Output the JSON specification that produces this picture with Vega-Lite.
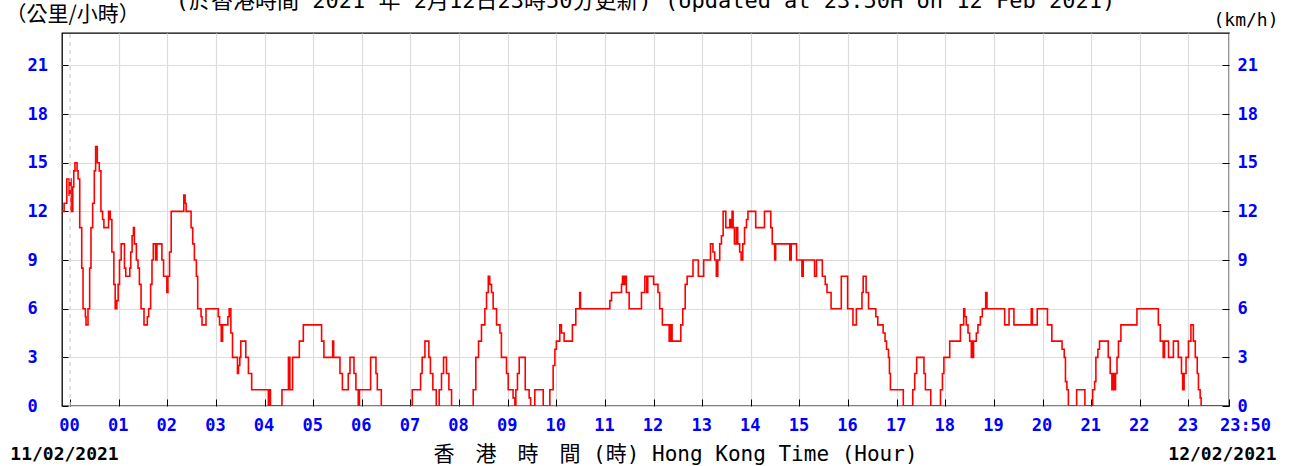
{
  "$schema": "https://vega.github.io/schema/vega-lite/v6.json",
  "width": 1167,
  "height": 373,
  "autosize": {"type": "none"},
  "padding": {"left": 62, "top": 33, "right": 67, "bottom": 60},
  "background": "white",
  "title": {
    "text": "(於香港時間 2021 年 2月12日23時50分更新)  (Updated at 23:50H on 12 Feb 2021)",
    "font": "DejaVu Sans Mono, Noto Sans CJK TC",
    "fontSize": 22,
    "fontWeight": "normal",
    "color": "#000000",
    "anchor": "middle",
    "frame": "group",
    "baseline": "middle",
    "offset": 0,
    "dy": 20
  },
  "config": {"view": {"stroke": "#000000", "strokeWidth": 1.3}},
  "resolve": {"axis": {"x": "independent", "y": "independent"}},
  "layer": [
    {
      "data": {"values": [
        {"t": -0.166667, "v": 12}, {"t": -0.123, "v": 12.5}, {"t": -0.068, "v": 14}, {"t": -0.02, "v": 13}, {"t": 0.0, "v": 14}, {"t": 0.02, "v": 12}, {"t": 0.055, "v": 13.5}, {"t": 0.075, "v": 14.5}, {"t": 0.1, "v": 15}, {"t": 0.143, "v": 14.5}, {"t": 0.164, "v": 14}, {"t": 0.198, "v": 11}, {"t": 0.239, "v": 8.5}, {"t": 0.266, "v": 6}, {"t": 0.314, "v": 5.5}, {"t": 0.327, "v": 5}, {"t": 0.368, "v": 6}, {"t": 0.402, "v": 8.5}, {"t": 0.429, "v": 11}, {"t": 0.464, "v": 12.5}, {"t": 0.498, "v": 14.5}, {"t": 0.525, "v": 16}, {"t": 0.559, "v": 15}, {"t": 0.6, "v": 14.5}, {"t": 0.634, "v": 12}, {"t": 0.668, "v": 11.5}, {"t": 0.695, "v": 11}, {"t": 0.791, "v": 12}, {"t": 0.825, "v": 11.5}, {"t": 0.859, "v": 9.5}, {"t": 0.9, "v": 7.5}, {"t": 0.927, "v": 6}, {"t": 0.961, "v": 6.5}, {"t": 0.988, "v": 7.5}, {"t": 1.016, "v": 9}, {"t": 1.05, "v": 10}, {"t": 1.118, "v": 8.5}, {"t": 1.145, "v": 8}, {"t": 1.227, "v": 8.5}, {"t": 1.247, "v": 9.5}, {"t": 1.275, "v": 10.5}, {"t": 1.302, "v": 11}, {"t": 1.322, "v": 10}, {"t": 1.363, "v": 9}, {"t": 1.397, "v": 8.5}, {"t": 1.425, "v": 7.5}, {"t": 1.459, "v": 6}, {"t": 1.52, "v": 5}, {"t": 1.588, "v": 5.5}, {"t": 1.616, "v": 6}, {"t": 1.656, "v": 7.5}, {"t": 1.684, "v": 9}, {"t": 1.711, "v": 10}, {"t": 1.759, "v": 9}, {"t": 1.786, "v": 10}, {"t": 1.888, "v": 9}, {"t": 1.922, "v": 8}, {"t": 1.99, "v": 7}, {"t": 2.011, "v": 8}, {"t": 2.045, "v": 9.5}, {"t": 2.079, "v": 12}, {"t": 2.338, "v": 13}, {"t": 2.365, "v": 12.5}, {"t": 2.386, "v": 12}, {"t": 2.488, "v": 11}, {"t": 2.522, "v": 10}, {"t": 2.556, "v": 9}, {"t": 2.597, "v": 8}, {"t": 2.624, "v": 6}, {"t": 2.693, "v": 5.5}, {"t": 2.713, "v": 5}, {"t": 2.795, "v": 6}, {"t": 3.047, "v": 5.5}, {"t": 3.074, "v": 5}, {"t": 3.108, "v": 4}, {"t": 3.136, "v": 5}, {"t": 3.245, "v": 5.5}, {"t": 3.272, "v": 6}, {"t": 3.306, "v": 4.5}, {"t": 3.34, "v": 3}, {"t": 3.442, "v": 2}, {"t": 3.463, "v": 2.5}, {"t": 3.49, "v": 3}, {"t": 3.51, "v": 4}, {"t": 3.613, "v": 3}, {"t": 3.667, "v": 2}, {"t": 3.734, "v": 1}, {"t": 4.077, "v": 0}, {"t": 4.1, "v": 1}, {"t": 4.12, "v": 0}, {"t": 4.357, "v": 1}, {"t": 4.49, "v": 3}, {"t": 4.52, "v": 1}, {"t": 4.575, "v": 3}, {"t": 4.714, "v": 4}, {"t": 4.796, "v": 5}, {"t": 5.172, "v": 4}, {"t": 5.22, "v": 3}, {"t": 5.4, "v": 4}, {"t": 5.42, "v": 3}, {"t": 5.55, "v": 2}, {"t": 5.6, "v": 1}, {"t": 5.72, "v": 2}, {"t": 5.756, "v": 3}, {"t": 5.838, "v": 2}, {"t": 5.878, "v": 1}, {"t": 5.926, "v": 0}, {"t": 5.95, "v": 1}, {"t": 6.18, "v": 3}, {"t": 6.29, "v": 2}, {"t": 6.318, "v": 1}, {"t": 6.4, "v": 0}, {"t": 7.037, "v": 1}, {"t": 7.208, "v": 2}, {"t": 7.24, "v": 3}, {"t": 7.297, "v": 4}, {"t": 7.378, "v": 3}, {"t": 7.41, "v": 2}, {"t": 7.46, "v": 1}, {"t": 7.53, "v": 0}, {"t": 7.59, "v": 1}, {"t": 7.638, "v": 2}, {"t": 7.68, "v": 3}, {"t": 7.74, "v": 2}, {"t": 7.79, "v": 1}, {"t": 7.845, "v": 0}, {"t": 8.29, "v": 1}, {"t": 8.344, "v": 3}, {"t": 8.4, "v": 4}, {"t": 8.46, "v": 5}, {"t": 8.53, "v": 6}, {"t": 8.564, "v": 7}, {"t": 8.6, "v": 8}, {"t": 8.63, "v": 7.5}, {"t": 8.667, "v": 7}, {"t": 8.7, "v": 6}, {"t": 8.77, "v": 5}, {"t": 8.84, "v": 4.5}, {"t": 8.87, "v": 3}, {"t": 8.975, "v": 2}, {"t": 9.01, "v": 1}, {"t": 9.11, "v": 0.5}, {"t": 9.147, "v": 0}, {"t": 9.167, "v": 1}, {"t": 9.2, "v": 2}, {"t": 9.236, "v": 3}, {"t": 9.36, "v": 1}, {"t": 9.44, "v": 0.5}, {"t": 9.47, "v": 0}, {"t": 9.557, "v": 1}, {"t": 9.73, "v": 0}, {"t": 9.866, "v": 1}, {"t": 9.934, "v": 2.5}, {"t": 9.97, "v": 3.5}, {"t": 10.0, "v": 4}, {"t": 10.07, "v": 5}, {"t": 10.105, "v": 4.5}, {"t": 10.16, "v": 4}, {"t": 10.33, "v": 5}, {"t": 10.4, "v": 6}, {"t": 10.48, "v": 7}, {"t": 10.497, "v": 6}, {"t": 11.1, "v": 6.5}, {"t": 11.135, "v": 7}, {"t": 11.34, "v": 7.5}, {"t": 11.36, "v": 8}, {"t": 11.38, "v": 7.5}, {"t": 11.41, "v": 8}, {"t": 11.44, "v": 7}, {"t": 11.497, "v": 6}, {"t": 11.75, "v": 7}, {"t": 11.82, "v": 8}, {"t": 11.86, "v": 7}, {"t": 11.88, "v": 8}, {"t": 12.0, "v": 7.5}, {"t": 12.09, "v": 7}, {"t": 12.125, "v": 6}, {"t": 12.18, "v": 5}, {"t": 12.32, "v": 4}, {"t": 12.34, "v": 5}, {"t": 12.35, "v": 4}, {"t": 12.37, "v": 5}, {"t": 12.38, "v": 4}, {"t": 12.56, "v": 5}, {"t": 12.6, "v": 6}, {"t": 12.65, "v": 7.5}, {"t": 12.69, "v": 8}, {"t": 12.81, "v": 9}, {"t": 12.92, "v": 8}, {"t": 13.03, "v": 9}, {"t": 13.17, "v": 10}, {"t": 13.22, "v": 9.5}, {"t": 13.256, "v": 9}, {"t": 13.29, "v": 8}, {"t": 13.32, "v": 9}, {"t": 13.36, "v": 10}, {"t": 13.395, "v": 10.5}, {"t": 13.43, "v": 12}, {"t": 13.485, "v": 11}, {"t": 13.566, "v": 11.5}, {"t": 13.594, "v": 11}, {"t": 13.614, "v": 12}, {"t": 13.635, "v": 11}, {"t": 13.662, "v": 10}, {"t": 13.7, "v": 11}, {"t": 13.73, "v": 10}, {"t": 13.77, "v": 9.5}, {"t": 13.8, "v": 9}, {"t": 13.834, "v": 10}, {"t": 13.87, "v": 11}, {"t": 13.91, "v": 11.5}, {"t": 13.94, "v": 12}, {"t": 14.1, "v": 11}, {"t": 14.28, "v": 12}, {"t": 14.41, "v": 11}, {"t": 14.44, "v": 10}, {"t": 14.49, "v": 9}, {"t": 14.51, "v": 10}, {"t": 14.8, "v": 9}, {"t": 14.83, "v": 10}, {"t": 14.94, "v": 9}, {"t": 15.05, "v": 8}, {"t": 15.077, "v": 9}, {"t": 15.31, "v": 8}, {"t": 15.35, "v": 9}, {"t": 15.47, "v": 8}, {"t": 15.53, "v": 7.5}, {"t": 15.566, "v": 7}, {"t": 15.65, "v": 6}, {"t": 15.86, "v": 8}, {"t": 15.99, "v": 6}, {"t": 16.1, "v": 5}, {"t": 16.17, "v": 6}, {"t": 16.285, "v": 7}, {"t": 16.31, "v": 8}, {"t": 16.37, "v": 7}, {"t": 16.42, "v": 6}, {"t": 16.57, "v": 5.5}, {"t": 16.61, "v": 5}, {"t": 16.72, "v": 4.5}, {"t": 16.76, "v": 4}, {"t": 16.79, "v": 3.5}, {"t": 16.83, "v": 3}, {"t": 16.85, "v": 2}, {"t": 16.87, "v": 1}, {"t": 17.135, "v": 0}, {"t": 17.33, "v": 1}, {"t": 17.37, "v": 2}, {"t": 17.41, "v": 3}, {"t": 17.56, "v": 2}, {"t": 17.59, "v": 1}, {"t": 17.7, "v": 0}, {"t": 17.9, "v": 1}, {"t": 17.94, "v": 2}, {"t": 17.97, "v": 3}, {"t": 18.09, "v": 4}, {"t": 18.31, "v": 5}, {"t": 18.377, "v": 6}, {"t": 18.4, "v": 5.5}, {"t": 18.43, "v": 5}, {"t": 18.466, "v": 4.5}, {"t": 18.5, "v": 4}, {"t": 18.534, "v": 3}, {"t": 18.55, "v": 4}, {"t": 18.56, "v": 3}, {"t": 18.58, "v": 4}, {"t": 18.637, "v": 4.5}, {"t": 18.67, "v": 5}, {"t": 18.72, "v": 5.5}, {"t": 18.76, "v": 6}, {"t": 18.83, "v": 7}, {"t": 18.856, "v": 6}, {"t": 19.22, "v": 5}, {"t": 19.31, "v": 6}, {"t": 19.41, "v": 5}, {"t": 19.767, "v": 6}, {"t": 19.79, "v": 5}, {"t": 19.89, "v": 6}, {"t": 20.1, "v": 5}, {"t": 20.19, "v": 4}, {"t": 20.4, "v": 3.5}, {"t": 20.445, "v": 3}, {"t": 20.47, "v": 1.5}, {"t": 20.5, "v": 1}, {"t": 20.53, "v": 0}, {"t": 20.7, "v": 1}, {"t": 20.87, "v": 0}, {"t": 21.03, "v": 1}, {"t": 21.07, "v": 1.5}, {"t": 21.096, "v": 3}, {"t": 21.137, "v": 3.5}, {"t": 21.17, "v": 4}, {"t": 21.35, "v": 3}, {"t": 21.39, "v": 2}, {"t": 21.425, "v": 1}, {"t": 21.44, "v": 2}, {"t": 21.45, "v": 1}, {"t": 21.47, "v": 2}, {"t": 21.48, "v": 1}, {"t": 21.5, "v": 2}, {"t": 21.53, "v": 3}, {"t": 21.56, "v": 4}, {"t": 21.61, "v": 5}, {"t": 21.94, "v": 6}, {"t": 22.38, "v": 5}, {"t": 22.42, "v": 4}, {"t": 22.48, "v": 3}, {"t": 22.507, "v": 4}, {"t": 22.59, "v": 3}, {"t": 22.69, "v": 4}, {"t": 22.79, "v": 3}, {"t": 22.856, "v": 2}, {"t": 22.88, "v": 1}, {"t": 22.91, "v": 2}, {"t": 22.95, "v": 3}, {"t": 23.0, "v": 4}, {"t": 23.05, "v": 5}, {"t": 23.1, "v": 4}, {"t": 23.14, "v": 3}, {"t": 23.18, "v": 2}, {"t": 23.205, "v": 1}, {"t": 23.24, "v": 0.5}, {"t": 23.26, "v": 0}, {"t": 23.833333, "v": 0}
      ]},
      "mark": {"type": "line", "interpolate": "step-after", "color": "#ff0000", "strokeWidth": 1.6, "clip": true},
      "encoding": {
        "x": {
          "field": "t", "type": "quantitative",
          "scale": {"domain": [-0.166667, 23.833333], "nice": false, "zero": false},
          "axis": {
            "orient": "bottom",
            "values": [0, 1, 2, 3, 4, 5, 6, 7, 8, 9, 10, 11, 12, 13, 14, 15, 16, 17, 18, 19, 20, 21, 22, 23, 23.833333],
            "labelExpr": "datum.value > 23.5 ? '23:50' : (datum.value < 10 ? '0' + datum.value : '' + datum.value)",
            "labelFlush": false, "labelOverlap": false,
            "labelFont": "DejaVu Sans Mono", "labelFontSize": 17, "labelFontWeight": "bold", "labelColor": "#0000ff",
            "labelBaseline": "top", "labelPadding": 18,
            "labelOffset": {"condition": {"test": "datum.value > 23.5", "value": 16}, "value": -1},
            "tickSize": -7, "tickColor": "#000000", "tickWidth": 1,
            "domain": false,
            "grid": true, "gridColor": "#dcdcdc", "gridWidth": 1.2,
            "gridOpacity": {"condition": {"test": "datum.value == 0", "value": 0}, "value": 1},
            "title": "香　港　時　間 (時)  Hong Kong Time (Hour)",
            "titleFont": "DejaVu Sans Mono, Noto Sans CJK TC", "titleFontSize": 21, "titleFontWeight": "normal", "titleColor": "#000000",
            "titleX": 613, "titleY": 48, "titleAlign": "center", "titleBaseline": "middle"
          }
        },
        "y": {
          "field": "v", "type": "quantitative",
          "scale": {"domain": [0, 23], "nice": false},
          "axis": {
            "orient": "left",
            "values": [0, 3, 6, 9, 12, 15, 18, 21],
            "labelFont": "DejaVu Sans Mono", "labelFontSize": 17, "labelFontWeight": "bold", "labelColor": "#0000ff",
            "labelAlign": "left", "labelBaseline": "middle", "labelPadding": 41, "labelFlush": false,
            "tickSize": -6, "tickColor": "#000000", "tickWidth": 1,
            "domain": false,
            "grid": true, "gridColor": "#dcdcdc", "gridWidth": 1.2,
            "title": "（公里/小時）",
            "titleFont": "Noto Sans CJK TC", "titleFontSize": 21, "titleFontWeight": "normal", "titleColor": "#000000",
            "titleAngle": 0, "titleAlign": "left", "titleBaseline": "middle", "titleX": -57, "titleY": -19
          }
        }
      }
    },
    {
      "data": {"values": [{"t": 0}]},
      "mark": {"type": "rule", "color": "#cfcfcf", "strokeDash": [4, 4], "strokeWidth": 1.2},
      "encoding": {
        "x": {
          "field": "t", "type": "quantitative",
          "axis": {
            "orient": "bottom",
            "values": [-0.166667, 23.833333],
            "labelExpr": "datum.value < 0 ? '11/02/2021' : '12/02/2021'",
            "labelFlush": false, "labelOverlap": false,
            "labelFont": "DejaVu Sans Mono", "labelFontSize": 18, "labelFontWeight": "bold", "labelColor": "#000000",
            "labelAlign": "center", "labelBaseline": "middle", "labelPadding": 48,
            "labelOffset": {"condition": {"test": "datum.value < 0", "value": 2}, "value": -7},
            "ticks": false, "tickSize": 0, "domain": false, "grid": false, "title": null
          }
        },
        "y": {
          "datum": 0, "type": "quantitative",
          "axis": {
            "orient": "right",
            "values": [0, 3, 6, 9, 12, 15, 18, 21],
            "labelFont": "DejaVu Sans Mono", "labelFontSize": 17, "labelFontWeight": "bold", "labelColor": "#0000ff",
            "labelAlign": "left", "labelBaseline": "middle", "labelPadding": 15, "labelFlush": false,
            "tickSize": -7, "tickColor": "#000000", "tickWidth": 1,
            "domain": false, "grid": false,
            "title": "(km/h)",
            "titleFont": "DejaVu Sans Mono", "titleFontSize": 18, "titleFontWeight": "normal", "titleColor": "#000000",
            "titleAngle": 0, "titleAlign": "left", "titleBaseline": "middle", "titleX": -16, "titleY": -13
          }
        },
        "y2": {"datum": 23}
      }
    }
  ]
}
